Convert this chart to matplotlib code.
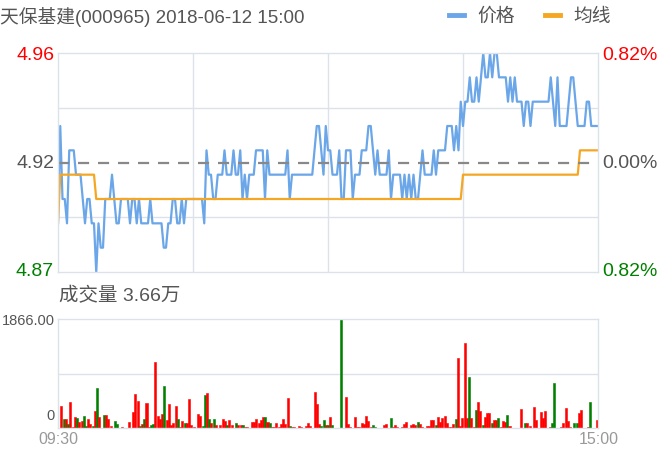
import numpy as np
import matplotlib
matplotlib.use("Agg")
import matplotlib.pyplot as plt
from matplotlib.lines import Line2D

plt.rcParams['font.family'] = ['Liberation Sans', 'Noto Sans CJK SC']

# minute prices in cents, 09:30 .. 15:00
price_cents = [
    489, 493, 490, 490, 489, 492, 492, 492, 491, 491,
    491, 490, 489, 490, 490, 489, 489, 487, 489, 488,
    488, 490, 490, 490, 491, 490, 489, 489, 490, 490,
    490, 490, 489, 490, 490, 489, 490, 489, 489, 489,
    489, 490, 489, 489, 489, 489, 489, 488, 488, 489,
    489, 490, 490, 489, 489, 490, 489, 490, 490, 490,
    490, 490, 490, 490, 490, 489, 492, 491, 491, 490,
    490, 491, 491, 491, 492, 491, 491, 491, 492, 491,
    491, 492, 490, 491, 490, 491, 491, 491, 492, 492,
    492, 492, 490, 492, 491, 491, 491, 491, 491, 491,
    491, 491, 492, 490, 491, 491, 491, 491, 491, 491,
    491, 491, 491, 491, 492, 493, 493, 492, 491, 493,
    492, 492, 491, 491, 491, 492, 490, 490, 492, 492,
    492, 490, 491, 491, 491, 492, 492, 492, 493, 493,
    492, 491, 492, 491, 491, 491, 491, 492, 490, 491,
    491, 491, 491, 490, 491, 490, 491, 490, 491, 490,
    490, 491, 492, 491, 491, 491, 491, 492, 491, 492,
    492, 492, 492, 493, 493, 493, 492, 493, 492, 494,
    493, 494, 494, 495, 494, 494, 495, 494, 495, 496,
    495, 495, 496, 495, 496, 496, 495, 495, 495, 495,
    494, 495, 494, 495, 494, 494, 494, 493, 494, 494,
    493, 494, 494, 494, 494, 494, 494, 494, 494, 495,
    494, 493, 495, 493, 493, 493, 493, 494, 495, 495,
    494, 493, 493, 493, 493, 494, 494, 493, 493, 493, 493,
]

# average price line as (cents, number of minutes)
avg_runs = [(489, 1), (491, 16), (490, 163), (491, 52), (492, 9)]

volume = [
    0, 383, 154, 154, 68, 445, 23, 188, 171, 108,
    120, 211, 34, 154, 63, 40, 297, 685, 183, 6,
    223, 223, 154, 34, 6, 114, 68, 6, 23, 6,
    6, 103, 0, 280, 582, 468, 40, 63, 154, 428,
    17, 51, 63, 1125, 211, 148, 234, 725, 137, 411,
    51, 91, 377, 148, 17, 114, 80, 80, 497, 46,
    17, 0, 240, 205, 34, 560, 600, 148, 91, 148,
    57, 6, 46, 148, 120, 51, 131, 57, 6, 91,
    57, 57, 57, 23, 17, 0, 108, 108, 154, 91,
    137, 183, 188, 108, 80, 17, 23, 86, 17, 74,
    148, 74, 508, 34, 17, 11, 6, 40, 17, 0,
    34, 80, 34, 6, 617, 411, 68, 34, 131, 51,
    51, 183, 51, 0, 0, 0, 1866, 6, 531, 68,
    17, 0, 183, 17, 17, 91, 63, 211, 120, 17,
    46, 23, 6, 6, 0, 57, 68, 0, 166, 17,
    51, 17, 6, 17, 74, 103, 6, 51, 63, 51,
    108, 68, 17, 6, 29, 34, 131, 131, 51, 183,
    103, 166, 200, 80, 23, 23, 68, 148, 1193, 34,
    177, 1450, 177, 868, 177, 17, 303, 440, 297, 51,
    188, 251, 251, 91, 143, 143, 171, 17, 114, 108,
    223, 40, 6, 0, 0, 6, 320, 0, 91, 80,
    29, 0, 354, 143, 0, 274, 166, 286, 0, 17,
    91, 771, 0, 0, 17, 91, 348, 120, 23, 0,
    91, 80, 263, 303, 6, 0, 17, 440, 0, 0, 131,
]

# R = up minute, G = down minute
direction = ("RRGRGRRRGR" "RGGRRGRGRR" "GRRRRGGRRR" "RRRRRRGRGR"
             "RGGRRRRGRR" "RRRGRRGRRR" "RRRRGGRGRG" "RRRRRGRRRG"
             "RRGRRRRRRR" "RRGRGRRRRR" "RRRGRRRRRR" "RRRRRRRGGR"
             "GRGRRRGRRR" "RRRRRRRRRR" "GGRRRRRRGR" "RRRRRRRRRR"
             "GRRRRRRRGR" "RRRRRRRGRR" "RRRGRRGRRG" "RRRGRRGRRR"
             "GRRRRRRRGR" "RRRRRRRRRR" "GGRRRRRRRR" "GGRRRRRGRRR")

prev_close = 4.915
y_low, y_high = 4.87, 4.96
vol_max = 1866.00

price = np.array(price_cents) / 100
avg = np.repeat([c for c, n in avg_runs], [n for c, n in avg_runs]) / 100
minutes = np.arange(len(price))

W, H = 665, 457
fig = plt.figure(figsize=(W / 100, H / 100), dpi=100)
grid_c = '#dde2ea'


def fx(px):
    return px / W


def fy(py):
    return 1 - py / H


ax = fig.add_axes([fx(58), fy(272), 540 / W, 219 / H])
axv = fig.add_axes([fx(58), fy(428), 540 / W, 109 / H])

blue = '#6aa6e8'
orange = '#f5a623'
ax.plot(minutes, price, color=blue, lw=1.6)
ax.plot(minutes, avg, color=orange, lw=1.6)
ax.axhline(prev_close, color='#888888', lw=1.6, dashes=(5, 4))
ax.set_xlim(0, 240)
ax.set_ylim(y_low, y_high)
ax.set_xticks([60, 120, 180])
q = (y_high - y_low) / 4
ax.set_yticks([y_low + q, y_high - q])
ax.grid(True, color=grid_c, lw=1)

colors = ['#ff0000' if d == 'R' else '#008000' for d in direction]
axv.bar(minutes, volume, width=0.9, color=colors, edgecolor=colors, linewidth=0.4)
axv.set_xlim(-0.5, 240.5)
axv.set_ylim(0, vol_max)
axv.set_xticks([])
axv.set_yticks([vol_max / 2])
axv.grid(True, axis='y', color=grid_c, lw=1)

for a in (ax, axv):
    a.tick_params(length=0, labelleft=False, labelbottom=False)
    a.set_axisbelow(True)
    for s in a.spines.values():
        s.set_color(grid_c)
        s.set_linewidth(1)

gray = '#555555'
fig.text(0, fy(17), '天保基建(000965) 2018-06-12 15:00', fontsize=13.5,
         color=gray, va='center', ha='left')

handles = [Line2D([], [], color=blue, lw=3.5), Line2D([], [], color=orange, lw=3.5)]
fig.legend(handles, ['价格', '均线'], loc='center left',
           bbox_to_anchor=(fx(436), fy(17)), ncol=2, frameon=False,
           fontsize=13.5, handlelength=0.8, handletextpad=0.7,
           columnspacing=1.6, labelcolor=gray, borderpad=0.2)

fig.text(fx(54), fy(55), f'{y_high:.2f}', color='#ff0000', fontsize=14, ha='right', va='center')
fig.text(fx(54), fy(163), f'{prev_close:.2f}', color=gray, fontsize=14, ha='right', va='center')
fig.text(fx(54), fy(272), f'{y_low:.2f}', color='#008000', fontsize=14, ha='right', va='center')
fig.text(fx(602), fy(55), '0.82%', color='#ff0000', fontsize=14, ha='left', va='center')
fig.text(fx(602), fy(163), '0.00%', color=gray, fontsize=14, ha='left', va='center')
fig.text(fx(602), fy(272), '0.82%', color='#008000', fontsize=14, ha='left', va='center')

fig.text(fx(59), fy(296), '成交量 3.66万', color=gray, fontsize=14, ha='left', va='center')
fig.text(fx(55), fy(321), f'{vol_max:.2f}', color=gray, fontsize=10.5, ha='right', va='center')
fig.text(fx(55), fy(416), '0', color=gray, fontsize=10.5, ha='right', va='center')
fig.text(fx(58), fy(439), '09:30', color='#999999', fontsize=11.5, ha='center', va='center')
fig.text(fx(599), fy(439), '15:00', color='#999999', fontsize=11.5, ha='center', va='center')

fig.savefig('out.png', dpi=100)
